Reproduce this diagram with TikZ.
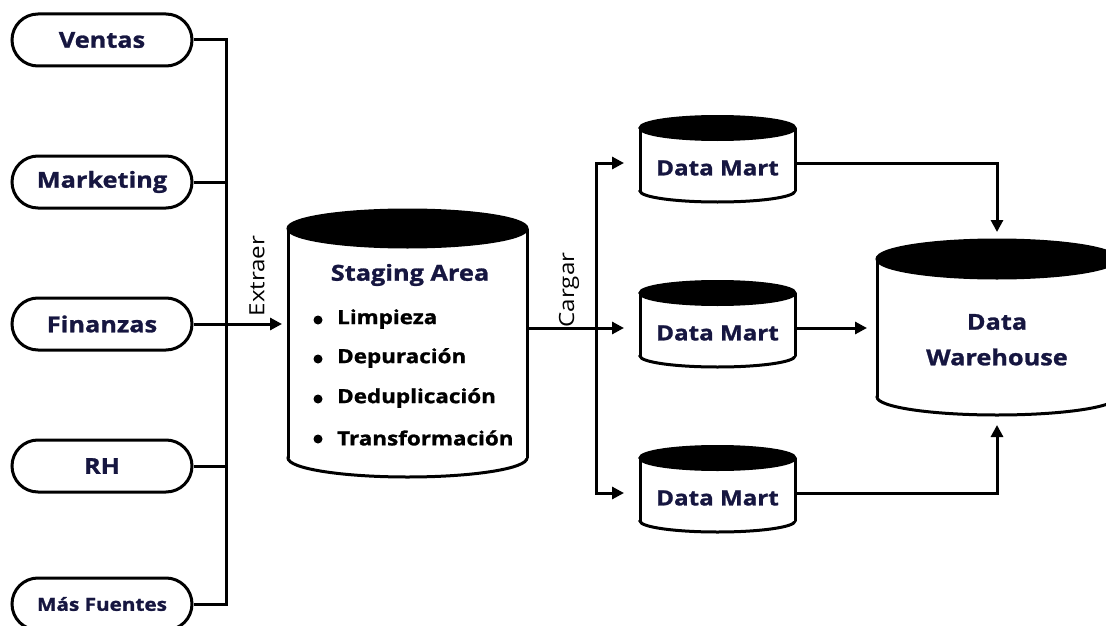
\documentclass[tikz,border=0pt]{standalone}
\usepackage{fontspec}
\setmainfont{Open Sans}[FakeStretch=1.15, BoldFeatures={FakeBold=1.2}]
\usetikzlibrary{arrows.meta,calc}
\definecolor{navy}{RGB}{22,22,64}
\tikzset{
  line/.style={line width=3pt,draw=black},
  arr/.style={line, -{Triangle[length=12pt,width=12pt]}},
  pill/.style={line, fill=white, rounded corners=26pt, minimum width=180pt, minimum height=52pt, inner sep=0pt,
     font=\fontsize{22pt}{24pt}\selectfont\bfseries, text=navy},
  cylbox/.style={inner sep=0pt, outer sep=0pt},
  lbl/.style={font=\fontsize{22pt}{24pt}\selectfont\bfseries, text=navy, inner sep=0pt},
  item/.style={font=\fontsize{19.5pt}{22pt}\selectfont\bfseries, text=black, inner sep=0pt, anchor=west},
  dot/.style={circle, fill=black, inner sep=0pt, minimum size=9pt},
  side/.style={font=\fontsize{21pt}{23pt}\selectfont, text=black, inner sep=0pt, rotate=90}
}
% cx, top ellipse cy, bottom ellipse cy, rx, ry top, ry bottom
\newcommand\dbcyl[6]{%
  \draw[line, fill=white] (#1,#3) ellipse [x radius=#4pt, y radius=#6pt];
  \fill[white] ({#1-#4},#2) rectangle ({#1+#4},#3);
  \draw[line] ({#1-#4},#2) -- ({#1-#4},#3);
  \draw[line] ({#1+#4},#2) -- ({#1+#4},#3);
  \draw[line, fill=black] (#1,#2) ellipse [x radius=#4pt, y radius=#5pt];
}
\begin{document}
\begin{tikzpicture}[x=1pt,y=-1pt]
\useasboundingbox (0,0) rectangle (1106,626);
\clip (0,0) rectangle (1106,626);

% sources
\node[pill] (ventas) at (102,40) {Ventas};
\node[pill] (marketing) at (102,182) {Marketing};
\node[pill] (finanzas) at (102,324) {Finanzas};
\node[pill] (rh) at (102,466) {RH};
\node[pill, font=\fontsize{18pt}{20pt}\selectfont\bfseries] (mas) at (102,604) {Más Fuentes};

\coordinate (busx) at (226,0);
\coordinate (split) at (596,328);
\coordinate (l1) at (0,163);
\coordinate (l3) at (0,493);
\coordinate (mergex) at (997,0);

% staging area
\dbcyl{407.5}{228.5}{458}{119.5}{18.5}{19}
\node[cylbox, minimum width=239pt, minimum height=267pt] (staging) at (407.5,343.5) {};
\node[lbl] (stagingt) at (410,275) {Staging Area};
\node[dot] (b1) at (318,320) {}; \node[item] (i1) at (337,319) {Limpieza};
\node[dot] (b2) at (318,359) {}; \node[item] (i2) at (337,358) {Depuración};
\node[dot] (b3) at (318,399) {}; \node[item] (i3) at (337,398) {Deduplicación};
\node[dot] (b4) at (318,439) {}; \node[item] (i4) at (337,438) {Transformación};

% data marts
\dbcyl{717.5}{128}{191}{77.5}{11.5}{11}
\node[cylbox, minimum width=155pt, minimum height=86.5pt] (dm1) at (717.5,159.25) {};
\node[lbl, font=\fontsize{21pt}{23pt}\selectfont\bfseries] (dm1t) at (717.5,168) {Data Mart};
\dbcyl{717.5}{293}{356}{77.5}{11.5}{11}
\node[cylbox, minimum width=155pt, minimum height=86.5pt] (dm2) at (717.5,324.25) {};
\node[lbl, font=\fontsize{21pt}{23pt}\selectfont\bfseries] (dm2t) at (717.5,333) {Data Mart};
\dbcyl{717.5}{458}{521}{77.5}{11.5}{11}
\node[cylbox, minimum width=155pt, minimum height=86.5pt] (dm3) at (717.5,489.25) {};
\node[lbl, font=\fontsize{21pt}{23pt}\selectfont\bfseries] (dm3t) at (717.5,498) {Data Mart};

% warehouse
\dbcyl{997}{259}{397}{120}{19}{18}
\node[cylbox, minimum width=240pt, minimum height=175pt] (wh) at (997,327.5) {};
\node[lbl] (wht1) at (997,322) {Data};
\node[lbl] (wht2) at (997,357) {Warehouse};

% labels
\node[side] (extraer) at (257,276) {Extraer};
\node[side] (cargar) at (569,290) {Cargar};

% connectors: sources
\draw[line] (ventas.east) -- (ventas.east -| busx) -- (mas.east -| busx) -- (mas.east);
\draw[line] (marketing.east) -- (marketing.east -| busx);
\draw[line] (rh.east) -- (rh.east -| busx);
\draw[arr, shorten >=6pt] (finanzas.east) -- (finanzas.east -| staging.west);

% staging to data marts
\draw[line] (staging.east |- split) -- (split);
\draw[arr, shorten >=16pt] (split) -- (split -| dm2.west);
\draw[arr, shorten >=16pt] (split) -- (split |- l1) -- (l1 -| dm1.west);
\draw[arr, shorten >=16pt] (split) -- (split |- l3) -- (l3 -| dm3.west);

% data marts to warehouse
\draw[arr, shorten >=8pt] (dm1.east |- l1) -- (l1 -| mergex) -- (wh.north -| mergex);
\draw[arr, shorten >=10pt] (dm2.east |- split) -- (split -| wh.west);
\draw[arr, shorten >=10pt] (dm3.east |- l3) -- (l3 -| mergex) -- (wh.south -| mergex);
\end{tikzpicture}
\end{document}
